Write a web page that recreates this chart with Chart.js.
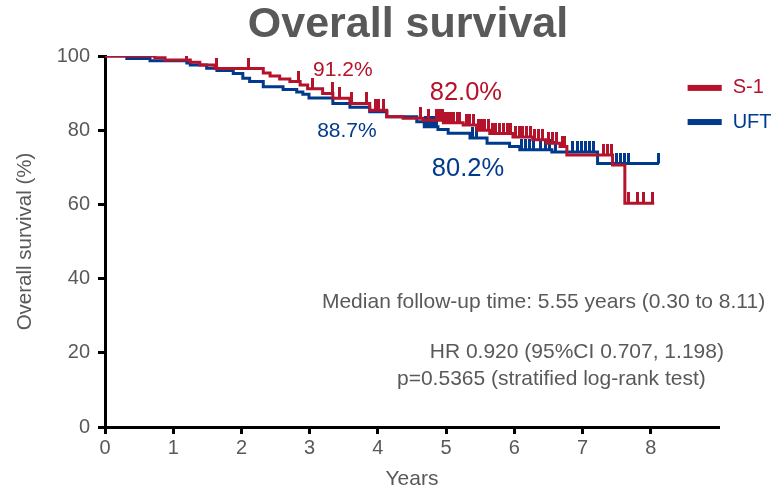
<!DOCTYPE html>
<html>
<head>
<meta charset="utf-8">
<script src="https://cdn.jsdelivr.net/npm/chart.js@4/dist/chart.umd.min.js"></script>
<style>
  html, body { margin: 0; padding: 0; background: #fff; }
  #wrap { width: 781px; height: 492px; }
</style>
</head>
<body>
<div id="wrap"><canvas id="osChart"></canvas></div>
<script>
// Kaplan-Meier steps: time of event (years) and survival (%) after it
const s1Times = [0, 0.73, 0.88, 1.25, 1.39, 1.61, 2.32, 2.42, 2.56, 2.71, 2.86, 2.97, 3.19, 3.34, 3.59, 3.88, 4.13, 4.37, 4.66, 4.96, 5.25, 5.45, 5.64, 5.98, 6.27, 6.47, 6.67, 6.77, 7.44, 7.62, 8.05]
const s1Surv  = [100, 99.5, 98.9, 98.3, 97.6, 96.6, 95.4, 94.6, 93.8, 93.1, 92.2, 91.2, 89.9, 88.6, 87.2, 85.4, 83.6, 83.2, 82.7, 82.0, 81.4, 80.0, 79.1, 78.2, 77.4, 76.5, 75.6, 73.3, 70.6, 60.3, 60.3]
const uftTimes = [0, 0.32, 0.66, 1.20, 1.25, 1.49, 1.64, 1.88, 2.02, 2.12, 2.32, 2.61, 2.81, 2.90, 2.99, 3.34, 3.59, 3.88, 4.13, 4.57, 4.68, 4.88, 5.03, 5.35, 5.60, 5.93, 6.08, 6.55, 7.22, 8.12]
const uftSurv  = [100, 99.3, 98.7, 98.1, 97.6, 96.7, 96.1, 95.3, 94.0, 93.1, 91.7, 91.0, 90.3, 89.7, 88.7, 87.2, 86.2, 85.0, 83.6, 82.3, 80.9, 80.2, 79.2, 77.9, 76.5, 75.6, 74.7, 74.1, 71.0, 71.0]

// censored observations (years)
const s1Censor = [1.20, 1.63, 2.10, 2.84, 3.04, 3.33, 3.44, 3.62, 3.84, 3.96, 4.01, 4.08, 4.62, 4.74, 4.86, 4.90, 4.94, 4.99, 5.03, 5.07, 5.11, 5.16, 5.20, 5.30, 5.35, 5.40, 5.47, 5.52, 5.57, 5.62, 5.68, 5.73, 5.78, 5.84, 5.90, 5.95, 6.02, 6.07, 6.12, 6.18, 6.23, 6.30, 6.36, 6.42, 6.50, 6.56, 6.62, 6.70, 6.73, 7.30, 7.37, 7.42, 7.67, 7.80, 7.90, 8.03]
const uftCensor = [4.70, 4.74, 4.78, 4.82, 4.86, 5.38, 5.45, 6.10, 6.16, 6.22, 6.28, 6.38, 6.45, 6.52, 6.60, 6.85, 6.92, 6.98, 7.04, 7.10, 7.16, 7.50, 7.56, 7.62, 7.68, 8.12]

const armNames = ['S-1', 'UFT']
const xTicks = [0, 1, 2, 3, 4, 5, 6, 7, 8]
const yTicks = [0, 20, 40, 60, 80, 100]

// landmark rates printed next to the curves: [text, arm, x, y, size]
const rateLabels = [
    ['91.2%', 0, 3.05, 96.2, 21],
    ['82.0%', 0, 4.76, 90.0, 25.5],
    ['88.7%', 1, 3.11, 79.8, 21],
    ['80.2%', 1, 4.79, 69.5, 25.5],
]
const notes = [
    ['Median follow-up time: 5.55 years (0.30 to 8.11)', 3.18, 33.7],
    ['HR 0.920 (95%CI 0.707, 1.198)', 4.76, 20.2],
    ['p=0.5365 (stratified log-rank test)', 4.28, 12.9],
]

const RED = '#b5122b'
const BLUE = '#003a8c'
const GREY = '#595959'
const FONT = '"Liberation Sans", Arial, sans-serif'

const toPoints = (times, surv) => times.map((t, i) => ({x: t, y: surv[i]}))

const survAt = (times, surv, t) => {
    let v = surv[0]
    for (let i = 0; i < times.length; i++) {
        if (times[i] <= t) v = surv[i]
    }
    return v
}

// small upward tick used as the censor marker
const makeTick = (color) => {
    const c = document.createElement('canvas')
    c.width = 3
    c.height = 22
    const g = c.getContext('2d')
    g.fillStyle = color
    g.fillRect(0, 0, 3, 11)
    return c
}

const extras = {
    id: 'extras',
    afterDraw(chart) {
        const {ctx, scales: {x, y}} = chart
        ctx.save()
        ctx.textBaseline = 'middle'
        ctx.textAlign = 'center'
        ctx.fillStyle = GREY
        ctx.font = 'bold 43px ' + FONT
        ctx.fillText('Overall survival', 408, 25)

        ctx.textAlign = 'left'
        rateLabels.forEach(([txt, arm, xv, yv, size]) => {
            ctx.fillStyle = arm === 0 ? RED : BLUE
            ctx.font = size + 'px ' + FONT
            ctx.fillText(txt, x.getPixelForValue(xv), y.getPixelForValue(yv))
        })

        ctx.fillStyle = GREY
        ctx.font = '21px ' + FONT
        notes.forEach(([txt, xv, yv]) => {
            ctx.fillText(txt, x.getPixelForValue(xv), y.getPixelForValue(yv))
        })

        // legend
        const colors = [RED, BLUE]
        const legendY = [91.4, 82.2]
        armNames.forEach((name, i) => {
            const py = y.getPixelForValue(legendY[i])
            ctx.fillStyle = colors[i]
            ctx.fillRect(x.getPixelForValue(8.54), py - 3, x.getPixelForValue(9.04) - x.getPixelForValue(8.54), 6)
            ctx.font = '20px ' + FONT
            ctx.fillText(name, x.getPixelForValue(9.2), py)
        })
        ctx.restore()
    }
}

new Chart(document.getElementById('osChart'), {
    data: {
        datasets: [
            {
                type: 'scatter',
                label: 'S-1 censored',
                data: s1Censor.map(t => ({x: t, y: survAt(s1Times, s1Surv, t)})),
                pointStyle: makeTick(RED),
                pointRadius: 4,
                order: 0,
            },
            {
                type: 'line',
                label: armNames[0],
                data: toPoints(s1Times, s1Surv),
                stepped: true,
                borderColor: RED,
                borderWidth: 3,
                pointRadius: 0,
                fill: false,
                order: 1,
            },
            {
                type: 'scatter',
                label: 'UFT censored',
                data: uftCensor.map(t => ({x: t, y: survAt(uftTimes, uftSurv, t)})),
                pointStyle: makeTick(BLUE),
                pointRadius: 4,
                order: 2,
            },
            {
                type: 'line',
                label: armNames[1],
                data: toPoints(uftTimes, uftSurv),
                stepped: true,
                borderColor: BLUE,
                borderWidth: 3,
                pointRadius: 0,
                fill: false,
                order: 3,
            },
        ]
    },
    options: {
        responsive: true,
        maintainAspectRatio: false,
        animation: false,
        events: [],
        layout: {
            padding: {top: 56, right: 62, left: 0, bottom: 0}
        },
        plugins: {
            legend: {display: false},
            tooltip: {enabled: false},
        },
        scales: {
            x: {
                type: 'linear',
                min: 0,
                max: 9,
                afterBuildTicks: (scale) => {
                    scale.ticks = xTicks.map(v => ({value: v}))
                },
                afterFit: (scale) => { scale.height = 65 },
                ticks: {
                    color: GREY,
                    font: {family: FONT, size: 20},
                    padding: 2,
                    maxRotation: 0,
                },
                grid: {
                    drawOnChartArea: false,
                    drawTicks: true,
                    tickLength: 7,
                    tickWidth: 3,
                    color: '#000',
                },
                border: {color: '#000', width: 3},
                title: {
                    display: true,
                    text: 'Years',
                    color: GREY,
                    font: {family: FONT, size: 21},
                    padding: {top: 0, bottom: 0},
                },
            },
            y: {
                min: 0,
                max: 100,
                afterBuildTicks: (scale) => {
                    scale.ticks = yTicks.map(v => ({value: v}))
                },
                afterFit: (scale) => { scale.width = 105 },
                ticks: {
                    color: GREY,
                    font: {family: FONT, size: 20},
                    padding: 8,
                },
                grid: {
                    drawOnChartArea: false,
                    drawTicks: true,
                    tickLength: 7,
                    tickWidth: 3,
                    color: '#000',
                },
                border: {color: '#000', width: 3},
                title: {
                    display: true,
                    text: 'Overall survival (%)',
                    color: GREY,
                    font: {family: FONT, size: 20.5},
                    padding: {top: 13, bottom: 0},
                },
            },
        },
    },
    plugins: [extras],
});
</script>
</body>
</html>
